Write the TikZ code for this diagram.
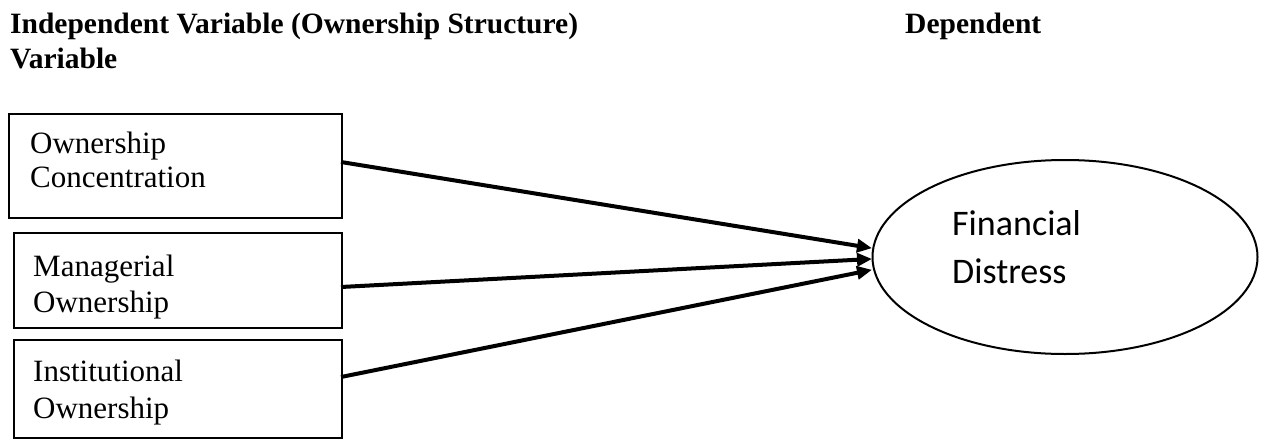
\documentclass[tikz,border=0pt]{standalone}
\usepackage{fontspec}
\setmainfont{Liberation Serif}
\newfontfamily\calib{Carlito}
\usetikzlibrary{shapes.geometric,arrows.meta}
\begin{document}
\begin{tikzpicture}[x=1pt,y=-1pt,
  varbox/.style={draw,line width=2.4pt,rectangle,anchor=north west,inner sep=0pt},
  boxtext/.style={anchor=base west,inner sep=0pt,font=\fontsize{31}{36}\selectfont},
  headtext/.style={anchor=base west,inner sep=0pt,font=\fontsize{29.5}{35}\selectfont\bfseries},
  ftext/.style={anchor=base west,inner sep=0pt,font=\calib\fontsize{36}{44}\selectfont},
  link/.style={line width=4pt,-{Triangle[length=15pt,width=13pt]},shorten >=-1pt}]
\useasboundingbox (0,0) rectangle (1261,439);
% headings
\node[headtext] (h1) at (10,33) {Independent Variable (Ownership Structure)};
\node[headtext] (h2) at (10,68) {Variable};
\node[headtext] (h3) at (905,33) {Dependent};
% boxes
\node[varbox,minimum width=333pt,minimum height=104pt] (b1) at (8,113) {};
\node[varbox,minimum width=328pt,minimum height=95pt] (b2) at (13,232) {};
\node[varbox,minimum width=328pt,minimum height=98pt] (b3) at (13,339) {};
\node[boxtext] (t1a) at (30,153) {Ownership};
\node[boxtext] (t1b) at (30,187) {Concentration};
\node[boxtext] (t2a) at (33,276) {Managerial};
\node[boxtext] (t2b) at (33,312) {Ownership};
\node[boxtext] (t3a) at (33,381) {Institutional};
\node[boxtext] (t3b) at (33,418) {Ownership};
% ellipse
\node[draw,ellipse,line width=2pt,minimum width=385pt,minimum height=194pt,inner sep=0pt] (fd) at (1065,257) {};
\node[ftext] (fd1) at (952,235) {Financial};
\node[ftext] (fd2) at (952,283) {Distress};
% connectors
\coordinate (s1) at (341,162);
\coordinate (s2) at (341,287);
\coordinate (s3) at (341,377);
\coordinate (e1) at (871,248);
\coordinate (e2) at (871,259);
\coordinate (e3) at (871,270);
\draw[link] (s1) -- (e1);
\draw[link] (s2) -- (e2);
\draw[link] (s3) -- (e3);
\end{tikzpicture}
\end{document}
